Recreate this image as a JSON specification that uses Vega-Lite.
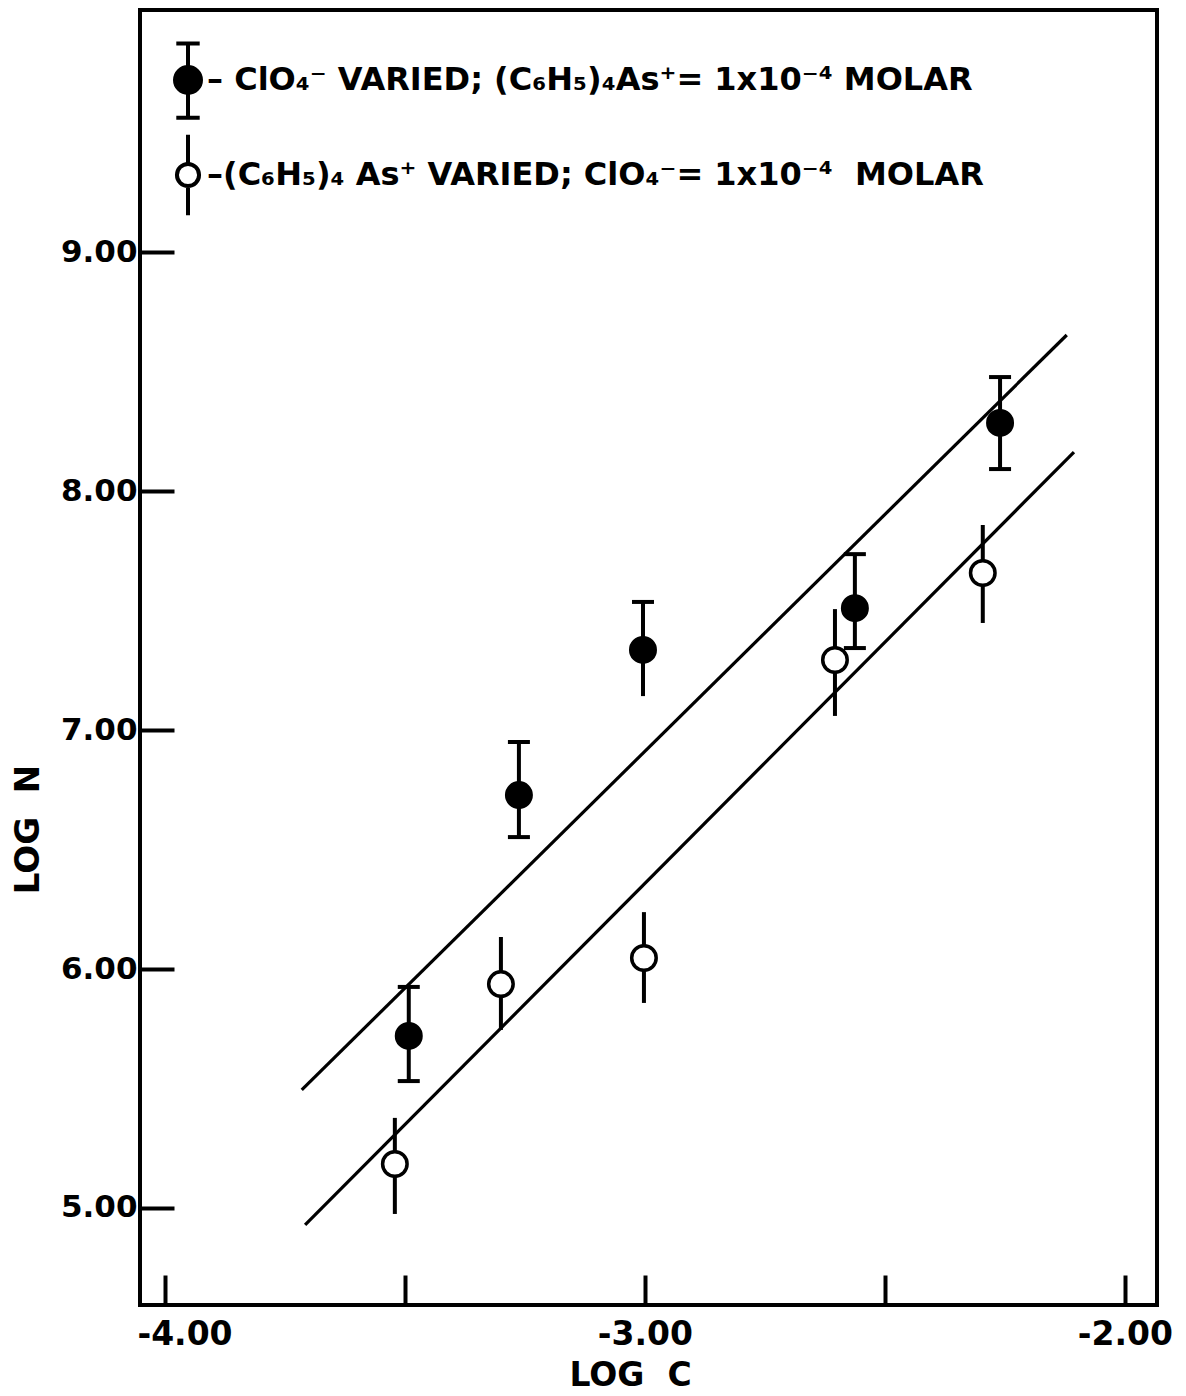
{
  "$schema": "https://vega.github.io/schema/vega-lite/v6.json",
  "autosize": {"type": "none"},
  "width": 1017,
  "height": 1295,
  "padding": {"left": 140, "top": 10, "right": 29, "bottom": 91},
  "background": "white",
  "config": {
    "view": {"stroke": "black", "strokeWidth": 4},
    "font": "DejaVu Sans"
  },
  "datasets": {
    "points": [
      {"series": "ClO4 varied", "logC": -3.492, "logN": 5.720, "lo": 5.531, "hi": 5.925},
      {"series": "ClO4 varied", "logC": -3.2625, "logN": 6.728, "lo": 6.552, "hi": 6.950},
      {"series": "ClO4 varied", "logC": -3.004, "logN": 7.335, "lo": 7.142, "hi": 7.536},
      {"series": "ClO4 varied", "logC": -2.5625, "logN": 7.510, "lo": 7.343, "hi": 7.736},
      {"series": "ClO4 varied", "logC": -2.260, "logN": 8.285, "lo": 8.092, "hi": 8.477},
      {"series": "As varied", "logC": -3.521, "logN": 5.184, "lo": 4.975, "hi": 5.377},
      {"series": "As varied", "logC": -3.300, "logN": 5.937, "lo": 5.745, "hi": 6.134},
      {"series": "As varied", "logC": -3.002, "logN": 6.046, "lo": 5.858, "hi": 6.238},
      {"series": "As varied", "logC": -2.604, "logN": 7.293, "lo": 7.059, "hi": 7.506},
      {"series": "As varied", "logC": -2.296, "logN": 7.657, "lo": 7.448, "hi": 7.858}
    ],
    "fits": [
      {"line": "upper", "logC": -3.715, "logN": 5.494},
      {"line": "upper", "logC": -2.121, "logN": 8.653},
      {"line": "lower", "logC": -3.708, "logN": 4.929},
      {"line": "lower", "logC": -2.106, "logN": 8.163}
    ]
  },
  "layer": [
    {
      "data": {"name": "fits"},
      "mark": {"type": "line", "color": "black", "strokeWidth": 3.2},
      "encoding": {
        "x": {
          "field": "logC", "type": "quantitative",
          "scale": {"domain": [-4.052, -1.933], "nice": false, "zero": false},
          "axis": {
            "values": [-4, -3.5, -3, -2.5, -2],
            "tickSize": -30, "tickWidth": 4, "tickColor": "black",
            "domain": false, "grid": false,
            "labelExpr": "datum.value % 1 == 0 ? replace(format(datum.value, '.2f'), '\u2212', '-') : ''",
            "labelFont": "DejaVu Sans", "labelFontSize": 33, "labelFontWeight": "bold", "labelColor": "black",
            "labelPadding": 43, "labelOverlap": false,
            "labelFlush": 28, "labelFlushOffset": 28,
            "title": "LOG\u00a0\u00a0C",
            "titleFont": "DejaVu Sans", "titleFontSize": 33, "titleFontWeight": "bold", "titleColor": "black",
            "titleX": 490, "titleY": 70, "titleAlign": "center", "titleBaseline": "middle"
          }
        },
        "y": {
          "field": "logN", "type": "quantitative",
          "scale": {"domain": [4.594, 10.013], "nice": false, "zero": false},
          "axis": {
            "values": [5, 6, 7, 8, 9],
            "format": ".2f",
            "tickSize": -34, "tickWidth": 4, "tickColor": "black",
            "domain": false, "grid": false,
            "labelFont": "DejaVu Sans", "labelFontSize": 31, "labelFontWeight": "bold", "labelColor": "black",
            "labelPadding": 37, "labelOverlap": false,
            "title": "LOG\u00a0\u00a0N",
            "titleFont": "DejaVu Sans", "titleFontSize": 34, "titleFontWeight": "bold", "titleColor": "black",
            "titleX": -112, "titleY": 819, "titleAngle": 270, "titleAlign": "center", "titleBaseline": "middle"
          }
        },
        "detail": {"field": "line", "type": "nominal"}
      }
    },
    {
      "data": {"name": "points"},
      "mark": {"type": "rule", "color": "black", "strokeWidth": 4},
      "encoding": {
        "x": {"field": "logC", "type": "quantitative"},
        "y": {"field": "lo", "type": "quantitative"},
        "y2": {"field": "hi"}
      }
    },
    {
      "data": {"name": "points"},
      "transform": [{"filter": "datum.series == 'ClO4 varied'"}],
      "mark": {"type": "point", "shape": "M-1,0H1", "size": 484, "filled": false, "stroke": "black", "strokeWidth": 4, "opacity": 1},
      "encoding": {
        "x": {"field": "logC", "type": "quantitative"},
        "y": {"field": "hi", "type": "quantitative"}
      }
    },
    {
      "data": {"name": "points"},
      "transform": [{"filter": "datum.series == 'ClO4 varied' && datum.logC != -3.004"}],
      "mark": {"type": "point", "shape": "M-1,0H1", "size": 484, "filled": false, "stroke": "black", "strokeWidth": 4, "opacity": 1},
      "encoding": {
        "x": {"field": "logC", "type": "quantitative"},
        "y": {"field": "lo", "type": "quantitative"}
      }
    },
    {
      "data": {"name": "points"},
      "mark": {"type": "point", "shape": "circle", "filled": true, "stroke": "black", "strokeWidth": 3.5, "opacity": 1, "size": 600},
      "encoding": {
        "x": {"field": "logC", "type": "quantitative"},
        "y": {"field": "logN", "type": "quantitative"},
        "fill": {
          "field": "series", "type": "nominal",
          "scale": {"domain": ["ClO4 varied", "As varied"], "range": ["black", "white"]},
          "legend": {
            "orient": "none", "legendX": 32, "legendY": 54,
            "title": null, "padding": 0,
            "symbolSize": 676, "symbolStrokeColor": "black", "symbolStrokeWidth": 4, "symbolOpacity": 1,
            "labelFont": "DejaVu Sans", "labelFontSize": 32, "labelFontWeight": "bold", "labelColor": "black",
            "labelOffset": 3, "labelLimit": 0, "rowPadding": 0,
            "labelExpr": "datum.value == 'ClO4 varied' ? '\u2013 ClO\u2084\u207b VARIED; (C\u2086H\u2085)\u2084As\u207a= 1x10\u207b\u2074 MOLAR' : '\u2013(C\u2086H\u2085)\u2084 As\u207a VARIED; ClO\u2084\u207b= 1x10\u207b\u2074\u00a0 MOLAR'",
            "encode": {
              "symbols": {
                "update": {
                  "shape": {"signal": "datum.value === 'ClO4 varied' ? 'M-1,0A1,1,0,1,0,1,0A1,1,0,1,0,-1,0ZM0,-2.8V2.9M-0.9,-2.8H0.9M-0.9,2.9H0.9' : 'M-0.85,0A0.85,0.85,0,1,0,0.85,0A0.85,0.85,0,1,0,-0.85,0ZM0,-3.1V-0.85M0,0.85V3.1'"}
                }
              }
            }
          }
        }
      }
    }
  ]
}
